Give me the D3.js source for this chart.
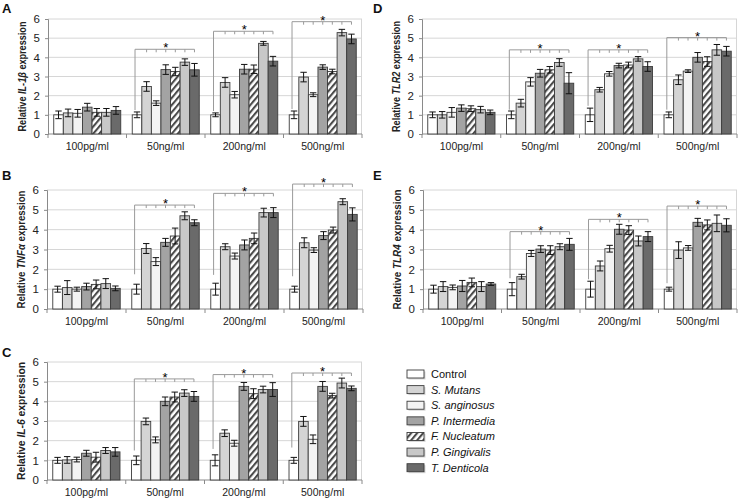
<!DOCTYPE html>
<html>
<head>
<meta charset="utf-8">
<script src="https://cdnjs.cloudflare.com/ajax/libs/d3/7.8.5/d3.min.js"></script>
<style>
  body { margin: 0; background: #fff; }
  svg { display: block; font-family: "Liberation Sans", Arial, Helvetica, sans-serif; }
</style>
</head>
<body>
<div id="chart"></div>
<script>
const width = 738;
const height = 500;

const doses = ["100pg/ml", "50ng/ml", "200ng/ml", "500ng/ml"];
const strains = ["Control", "S. Mutans", "S. anginosus", "P. Intermedia", "F. Nucleatum", "P. Gingivalis", "T. Denticola"];
const yTicks = [0, 1, 2, 3, 4, 5, 6];

// rows = doses, cols = strains
const il1bMean = [
    [1.0, 1.1, 1.08, 1.4, 1.13, 1.13, 1.23],
    [1.0, 2.48, 1.61, 3.36, 3.26, 3.75, 3.35],
    [1.0, 2.69, 2.05, 3.38, 3.38, 4.73, 3.8],
    [1.0, 2.97, 2.05, 3.49, 3.26, 5.29, 4.96]
];
const il1bErr = [
    [0.2, 0.2, 0.2, 0.2, 0.2, 0.2, 0.2],
    [0.15, 0.25, 0.12, 0.25, 0.22, 0.17, 0.33],
    [0.1, 0.25, 0.17, 0.25, 0.22, 0.1, 0.25],
    [0.2, 0.25, 0.1, 0.12, 0.12, 0.17, 0.25]
];
// [bracket level, bottom of left leg] for 50, 200, 500 ng/ml
const il1bBracket = [[4.42, 1.25], [5.36, 1.2], [5.86, 1.3]];

const tnfMean = [
    [1.0, 1.08, 1.0, 1.13, 1.24, 1.28, 1.04],
    [1.0, 3.05, 2.39, 3.36, 3.68, 4.7, 4.35],
    [1.0, 3.14, 2.67, 3.23, 3.56, 4.86, 4.86],
    [1.0, 3.34, 2.97, 3.7, 3.98, 5.41, 4.77]
];
const tnfErr = [
    [0.15, 0.35, 0.1, 0.17, 0.22, 0.25, 0.12],
    [0.25, 0.25, 0.2, 0.2, 0.4, 0.2, 0.15],
    [0.3, 0.15, 0.15, 0.25, 0.27, 0.22, 0.25],
    [0.15, 0.25, 0.12, 0.2, 0.15, 0.15, 0.33]
];
const tnfBracket = [[5.24, 1.75], [5.83, 1.72], [6.3, 1.65]];

const il6Mean = [
    [1.0, 1.02, 1.04, 1.36, 1.16, 1.5, 1.43],
    [1.0, 2.98, 2.04, 4.0, 4.22, 4.42, 4.25],
    [1.0, 2.38, 1.87, 4.76, 4.39, 4.6, 4.6],
    [1.0, 2.98, 2.07, 4.76, 4.29, 4.93, 4.66]
];
const il6Err = [
    [0.15, 0.17, 0.12, 0.15, 0.25, 0.15, 0.22],
    [0.22, 0.17, 0.15, 0.22, 0.25, 0.17, 0.25],
    [0.28, 0.17, 0.15, 0.2, 0.25, 0.17, 0.35],
    [0.15, 0.25, 0.22, 0.25, 0.12, 0.25, 0.12]
];
const il6Bracket = [[5.14, 1.5], [5.36, 1.58], [5.44, 1.65]];

const tlr2Mean = [
    [1.0, 1.0, 1.13, 1.35, 1.32, 1.27, 1.13],
    [1.0, 1.61, 2.72, 3.17, 3.35, 3.73, 2.65],
    [1.0, 2.31, 3.14, 3.57, 3.6, 3.92, 3.52],
    [1.0, 2.83, 3.28, 4.0, 3.78, 4.39, 4.32]
];
const tlr2Err = [
    [0.15, 0.17, 0.25, 0.17, 0.15, 0.17, 0.12],
    [0.2, 0.2, 0.22, 0.2, 0.17, 0.2, 0.55],
    [0.35, 0.12, 0.12, 0.12, 0.15, 0.12, 0.25],
    [0.15, 0.25, 0.07, 0.25, 0.25, 0.28, 0.25]
];
const tlr2Bracket = [[4.39, 1.27], [4.39, 1.47], [5.03, 1.27]];

const tlr4Mean = [
    [1.0, 1.13, 1.09, 1.16, 1.34, 1.13, 1.26],
    [1.0, 1.63, 2.8, 3.02, 2.97, 3.14, 3.26],
    [1.0, 2.17, 3.04, 4.02, 3.98, 3.43, 3.65],
    [1.0, 2.97, 3.08, 4.37, 4.24, 4.32, 4.22]
];
const tlr4Err = [
    [0.2, 0.25, 0.12, 0.28, 0.22, 0.25, 0.07],
    [0.33, 0.12, 0.15, 0.17, 0.22, 0.15, 0.3],
    [0.4, 0.25, 0.17, 0.25, 0.22, 0.25, 0.25],
    [0.1, 0.42, 0.12, 0.2, 0.25, 0.42, 0.33]
];
const tlr4Bracket = [[3.9, 1.55], [4.52, 1.5], [5.19, 1.3]];

const fills = ["#ffffff", "#d4d4d4", "#f3f3f3", "#a3a3a3", "url(#hatch)", "#c8c8c8", "#6a6a6a"];

const panels = [
    { letter: "A", gene: "IL-1β", mean: il1bMean, err: il1bErr, bracket: il1bBracket,
      box: { left: 48, right: 362, top: 19, bottom: 134 }, lx: 2, ly: 13, titleLen: 110 },
    { letter: "B", gene: "TNFα", mean: tnfMean, err: tnfErr, bracket: tnfBracket,
      box: { left: 47, right: 363, top: 190, bottom: 309 }, lx: 2, ly: 180, titleLen: 118 },
    { letter: "C", gene: "IL-6", mean: il6Mean, err: il6Err, bracket: il6Bracket,
      box: { left: 47, right: 362, top: 362, bottom: 480 }, lx: 2, ly: 357, titleLen: 118 },
    { letter: "D", gene: "TLR2", mean: tlr2Mean, err: tlr2Err, bracket: tlr2Bracket,
      box: { left: 422, right: 737, top: 19, bottom: 134 }, lx: 373, ly: 13, titleLen: 111 },
    { letter: "E", gene: "TLR4", mean: tlr4Mean, err: tlr4Err, bracket: tlr4Bracket,
      box: { left: 423, right: 737, top: 190, bottom: 309 }, lx: 373, ly: 180, titleLen: 120 }
];

const svg = d3.select("#chart")
    .append("svg")
    .attr("width", width)
    .attr("height", height);

// hatch for F. Nucleatum
const defs = svg.append("defs");
const hatch = defs.append("pattern")
    .attr("id", "hatch")
    .attr("patternUnits", "userSpaceOnUse")
    .attr("width", 4.6)
    .attr("height", 4.6)
    .attr("patternTransform", "rotate(40)");
hatch.append("rect").attr("width", 4.6).attr("height", 4.6).attr("fill", "#fff");
hatch.append("rect").attr("width", 2.1).attr("height", 4.6).attr("fill", "#4a4a4a");

panels.forEach(p => {
    const b = p.box;
    const g = svg.append("g");

    const y = d3.scaleLinear().domain([0, 6]).range([b.bottom, b.top]);
    const x0 = d3.scaleBand().domain(doses).range([b.left, b.right]);
    const x1 = d3.scaleBand().domain(strains).range([0, x0.bandwidth()])
        .paddingInner(0).paddingOuter(0.6);

    // gridlines
    g.selectAll(".grid")
        .data(yTicks.slice(1))
        .enter().append("line")
        .attr("x1", b.left).attr("x2", b.right)
        .attr("y1", d => y(d)).attr("y2", d => y(d))
        .attr("stroke", "#d6d6d6")
        .attr("stroke-width", 1);

    // right border
    g.append("line")
        .attr("x1", b.right - 0.5).attr("x2", b.right - 0.5)
        .attr("y1", y(6)).attr("y2", y(0))
        .attr("stroke", "#d6d6d6");

    // y axis
    const yAxis = g.append("g")
        .attr("transform", `translate(${b.left},0)`)
        .call(d3.axisLeft(y).tickValues(yTicks).tickSize(3).tickPadding(5).tickFormat(d3.format("d")));
    yAxis.select(".domain").attr("stroke", "#8a8a8a");
    yAxis.selectAll(".tick line").attr("stroke", "#8a8a8a");
    yAxis.selectAll("text").attr("font-size", 11.5).attr("fill", "#222")
        .attr("font-family", "Liberation Sans, Arial, sans-serif");

    // x axis
    const xAxisG = g.append("g");
    xAxisG.append("line")
        .attr("x1", b.left).attr("x2", b.right)
        .attr("y1", y(0)).attr("y2", y(0))
        .attr("stroke", "#8a8a8a");
    const bounds = doses.map(d => x0(d)).concat([b.right]);
    xAxisG.selectAll(".xt")
        .data(bounds)
        .enter().append("line")
        .attr("x1", d => d).attr("x2", d => d)
        .attr("y1", y(0)).attr("y2", y(0) + 4)
        .attr("stroke", "#8a8a8a");
    xAxisG.selectAll(".xl")
        .data(doses)
        .enter().append("text")
        .attr("x", d => x0(d) + x0.bandwidth() / 2)
        .attr("y", y(0) + 16)
        .attr("text-anchor", "middle")
        .attr("font-size", 10.5)
        .attr("fill", "#222")
        .text(d => d);

    // bars
    const groups = g.selectAll(".dose")
        .data(doses)
        .enter().append("g")
        .attr("transform", d => `translate(${x0(d)},0)`);

    const cells = groups.selectAll(".bar")
        .data((d, i) => strains.map((s, j) => ({ s, j, v: p.mean[i][j], e: p.err[i][j] })))
        .enter();

    cells.append("rect")
        .attr("x", d => x1(d.s))
        .attr("y", d => y(d.v))
        .attr("width", x1.bandwidth())
        .attr("height", d => y(0) - y(d.v))
        .attr("fill", d => fills[d.j])
        .attr("stroke", "#3c3c3c")
        .attr("stroke-width", 0.9);

    // error bars
    const cap = 3.2;
    cells.append("path")
        .attr("d", d => {
            const cx = x1(d.s) + x1.bandwidth() / 2;
            const hi = y(d.v + d.e), lo = y(d.v - d.e);
            return `M${cx},${hi}V${lo}M${cx - cap},${hi}H${cx + cap}M${cx - cap},${lo}H${cx + cap}`;
        })
        .attr("fill", "none")
        .attr("stroke", "#111")
        .attr("stroke-width", 1);

    // significance brackets (50, 200, 500 ng/ml)
    p.bracket.forEach((br, k) => {
        const dose = doses[k + 1];
        const cxs = strains.map(s => x0(dose) + x1(s) + x1.bandwidth() / 2);
        const yl = y(br[0]);
        let d = `M${cxs[0] - 2},${y(br[1])}V${yl}H${cxs[6]}`;
        cxs.slice(1).forEach(cx => { d += `M${cx},${yl}V${yl + 3}`; });
        g.append("path")
            .attr("d", d)
            .attr("fill", "none")
            .attr("stroke", "#9a9a9a")
            .attr("stroke-width", 1);
        g.append("text")
            .attr("x", (cxs[0] + cxs[6]) / 2)
            .attr("y", yl + 3)
            .attr("text-anchor", "middle")
            .attr("font-size", 13)
            .attr("fill", "#000")
            .text("*");
    });

    // y title
    const title = g.append("text")
        .attr("transform", `translate(${b.left - 26},${(b.top + b.bottom) / 2}) rotate(-90)`)
        .attr("text-anchor", "middle")
        .attr("dominant-baseline", "central")
        .attr("font-size", 11.5)
        .attr("font-weight", "bold")
        .attr("fill", "#222")
        .attr("textLength", p.titleLen)
        .attr("lengthAdjust", "spacingAndGlyphs");
    title.append("tspan").text("Relative ");
    title.append("tspan").attr("font-style", "italic").text(p.gene);
    title.append("tspan").text(" expression");

    // panel letter
    svg.append("text")
        .attr("x", p.lx)
        .attr("y", p.ly)
        .attr("font-size", 13)
        .attr("font-weight", "bold")
        .attr("fill", "#111")
        .text(p.letter);
});

// legend
const legend = svg.append("g");
const rowY = d3.scalePoint().domain(strains).range([374, 467.7]);
const items = legend.selectAll(".item")
    .data(strains)
    .enter().append("g")
    .attr("transform", d => `translate(407,${rowY(d)})`);

items.append("rect")
    .attr("x", 1.5).attr("y", -2.5)
    .attr("width", 17).attr("height", 8)
    .attr("fill", "#d8d8d8");
items.append("rect")
    .attr("x", 0).attr("y", -4)
    .attr("width", 17).attr("height", 8)
    .attr("fill", (d, i) => fills[i])
    .attr("stroke", "#3c3c3c")
    .attr("stroke-width", 0.9);
items.append("text")
    .attr("x", 24)
    .attr("y", 4)
    .attr("font-size", 11)
    .attr("fill", "#111")
    .attr("font-style", (d, i) => i === 0 ? "normal" : "italic")
    .text(d => d);
</script>
</body>
</html>
